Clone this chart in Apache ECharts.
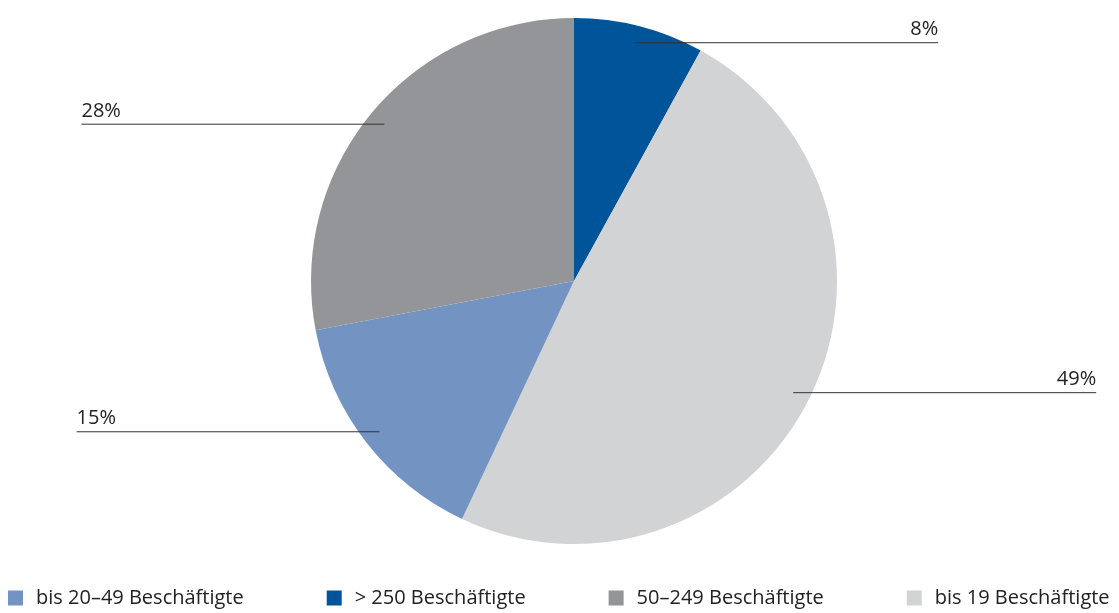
<!DOCTYPE html>
<html>
<head>
<meta charset="utf-8">
<script src="https://cdn.jsdelivr.net/npm/echarts@6/dist/echarts.min.js"></script>
<style>
  html, body { margin: 0; padding: 0; background: #fff; }
  #chart { width: 1119px; height: 613px; }
</style>
</head>
<body>
<div id="chart"></div>
<script>
// slices in drawing order, clockwise from 12 o'clock
var categories = ["> 250 Beschäftigte", "bis 19 Beschäftigte", "bis 20–49 Beschäftigte", "50–249 Beschäftigte"];
var shares = [8, 49, 15, 28];
var colors = ["#00559a", "#d1d3d4", "#7394c3", "#939598"];
var legendOrder = ["bis 20–49 Beschäftigte", "> 250 Beschäftigte", "50–249 Beschäftigte", "bis 19 Beschäftigte"];

var font = "Open Sans";
var chart = echarts.init(document.getElementById("chart"));

var pieData = categories.map(function (name, i) {
  return { name: name, value: shares[i], itemStyle: { color: colors[i] } };
});
// invisible copy only carrying the labels and their lines
var labelData = categories.map(function (name, i) {
  return { name: "label" + i, value: shares[i] };
});

var option = {
  animation: false,
  legend: {
    data: legendOrder,
    left: 8,
    top: 588,
    width: 1300,
    padding: 0,
    icon: "rect",
    itemWidth: 15,
    itemHeight: 15,
    itemGap: 83,
    textStyle: { fontFamily: font, fontSize: 20, color: "#222", padding: [0, 0, 0, 8] }
  },
  series: [
    {
      type: "pie",
      center: [574, 281],
      radius: 263,
      startAngle: 90,
      silent: true,
      label: { show: false },
      labelLine: { show: false },
      data: pieData
    },
    {
      type: "pie",
      z: 5,
      center: [574, 281],
      radius: 246,
      startAngle: 90,
      silent: true,
      avoidLabelOverlap: false,
      itemStyle: { color: "rgba(0,0,0,0)" },
      label: {
        show: true,
        position: "outside",
        formatter: "{c}%",
        fontFamily: font,
        fontSize: 20,
        color: "#222"
      },
      labelLine: {
        show: true,
        length: 0,
        length2: 303,
        lineStyle: { color: "#333", width: 1 }
      },
      labelLayout: function (p) {
        var pts = p.labelLinePoints;
        var end = pts[pts.length - 1];
        var right = end[0] > pts[0][0];
        return {
          x: end[0],
          y: end[1] - 3,
          align: right ? "right" : "left",
          verticalAlign: "bottom",
          labelLinePoints: pts
        };
      },
      data: labelData
    }
  ]
};
chart.setOption(option);
</script>
</body>
</html>
